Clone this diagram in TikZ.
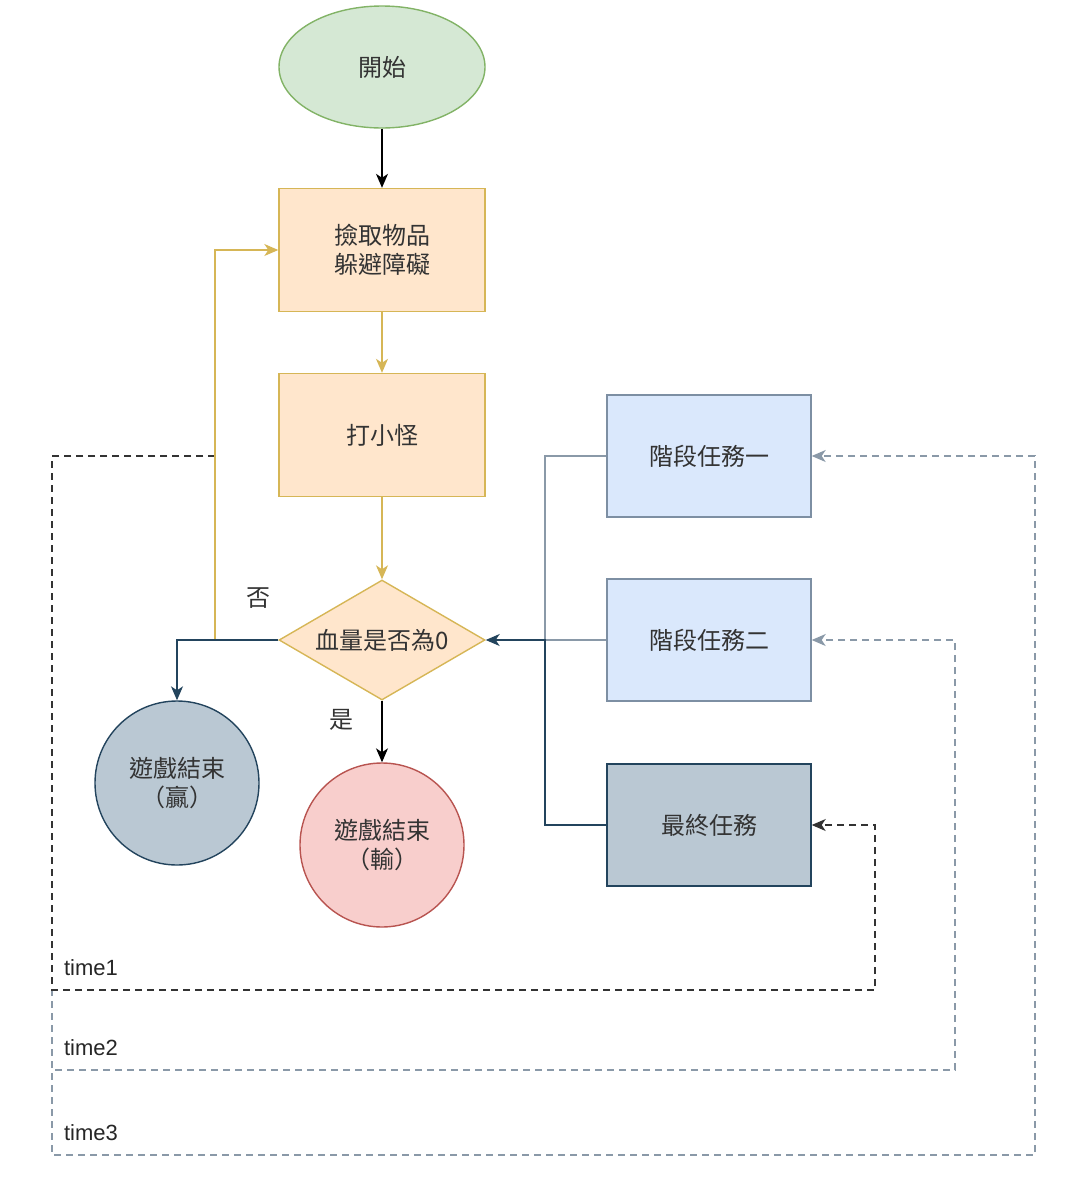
\documentclass[tikz,border=0pt]{standalone}
\usepackage{fontspec}
\setmainfont{Noto Sans CJK TC}
\newfontfamily\latin{Liberation Sans}
\usetikzlibrary{shapes.geometric,arrows.meta}
\definecolor{startfill}{HTML}{D5E8D4}
\definecolor{startline}{HTML}{82B366}
\definecolor{stepfill}{HTML}{FFE6CC}
\definecolor{stepline}{HTML}{D6B656}
\definecolor{taskfill}{HTML}{DAE8FC}
\definecolor{taskline}{HTML}{7D8FA3}
\definecolor{endfill}{HTML}{BAC8D3}
\definecolor{endline}{HTML}{23445D}
\definecolor{losefill}{HTML}{F8CECC}
\definecolor{loseline}{HTML}{B85450}
\definecolor{wireline}{HTML}{8A99A8}

\begin{document}
\begin{tikzpicture}[x=0.5pt,y=-0.5pt,
  every node/.style={font=\fontsize{12}{14.5}\selectfont,text=black!80},
  stepbox/.style={draw=stepline,fill=stepfill,line width=0.7pt,minimum width=103pt,minimum height=61.5pt,align=center},
  taskbox/.style={draw=taskline,fill=taskfill,line width=0.7pt,minimum width=102pt,minimum height=61pt},
  endnode/.style={circle,line width=0.7pt,minimum size=82pt,align=center},
  tip/.style={-{Stealth[length=7pt,width=6pt,inset=2pt]}},
  yarrow/.style={tip,draw=stepline,line width=0.7pt},
  timeloop/.style={dash pattern=on 3.5pt off 2.5pt,line width=0.6pt,tip},
  timelabel/.style={anchor=west,font=\latin\fontsize{11}{13}\selectfont,text=black!85}]
\useasboundingbox (0,0) rectangle (1068,1184);

% main flow
\node[ellipse,draw=startline,fill=startfill,line width=0.7pt,minimum width=103pt,minimum height=61pt] (start) at (382,67) {開始};
\node[stepbox] (pick) at (382,250) {撿取物品\\躲避障礙};
\node[stepbox] (fight) at (382,435) {打小怪};
\node[diamond,aspect=1.72,inner sep=0pt,draw=stepline,fill=stepfill,line width=0.7pt,minimum width=103pt,minimum height=60pt] (hp) at (382,640) {血量是否為0};
\node[endnode,draw=endline,fill=endfill] (win) at (177,783) {遊戲結束\\（贏）};
\node[endnode,draw=loseline,fill=losefill] (lose) at (382,845) {遊戲結束\\（輸）};

% tasks
\node[taskbox] (task1) at (709,456) {階段任務一};
\node[taskbox] (task2) at (709,640) {階段任務二};
\node[taskbox,draw=endline,fill=endfill] (task3) at (709,825) {最終任務};

\coordinate (loop) at (215,640);
\coordinate (tap) at (215,456);
\coordinate (rail) at (52,456);
\coordinate (bus) at (545,640);

% time loops
\foreach \t/\x/\y/\n/\c in {3/1035/1155/task1/wireline,2/955/1070/task2/wireline,1/875/990/task3/black!80}
  {\coordinate (r\t) at (\x,\y);
  \draw[timeloop,draw=\c] (tap) -- (rail) |- (r\t) |- (\n.east);
  \node[timelabel] (time\t) at (57,\y-22) {time\t};}

\draw[tip,line width=0.7pt] (start) -- (pick);
\draw[yarrow] (pick) -- (fight);
\draw[yarrow] (fight) -- (hp);
\draw[yarrow] (loop) |- (pick.west);
\draw[tip,draw=endline,line width=0.7pt] (hp.west) -| (win);
\draw[tip,line width=0.7pt] (hp) -- (lose);
\draw[draw=wireline,line width=0.7pt] (task1.west) -| (bus);
\draw[draw=wireline,line width=0.7pt] (task2.west) -- (bus);
\draw[tip,draw=endline,line width=0.7pt] (task3.west) -| (bus) -- (hp.east);

\node (no) at (258,598) {否};
\node (yes) at (341,720) {是};
\end{tikzpicture}
\end{document}
